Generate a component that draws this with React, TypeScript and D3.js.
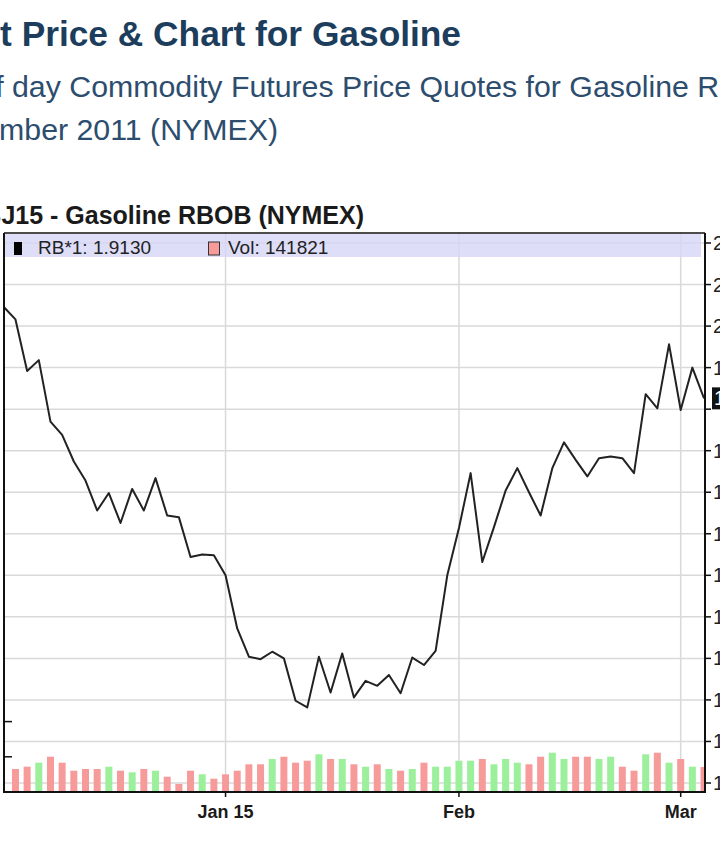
import React from "react";
import * as d3 from "d3";

// Price series (closing values), index -1 .. 59 (index -1 is the clipped point at the left edge)
const priceStartIndex = -1;
const prices = [
  2.023, 2.008, 1.946, 1.959, 1.885, 1.869, 1.837, 1.814, 1.778, 1.799,
  1.763, 1.804, 1.778, 1.817, 1.772, 1.770, 1.722, 1.725, 1.724, 1.700,
  1.636, 1.602, 1.599, 1.608, 1.600, 1.549, 1.541, 1.602, 1.559, 1.606,
  1.553, 1.573, 1.567, 1.580, 1.558, 1.601, 1.592, 1.609, 1.700, 1.757,
  1.823, 1.716, 1.758, 1.802, 1.829, 1.800, 1.772, 1.829, 1.860, 1.839,
  1.819, 1.841, 1.843, 1.841, 1.823, 1.918, 1.901, 1.978, 1.899, 1.950,
  1.913,
];

// Daily volume, index 0 .. 59
const volumes = [
  130700, 143800, 166500, 200600, 166500, 121000, 130700, 130700, 143800, 121000,
  111900, 130700, 121000, 86900, 45500, 121000, 100600, 75600, 100600, 121000,
  157400, 157400, 187500, 200600, 166500, 177800, 214200, 187500, 187500, 157400,
  143800, 157400, 130700, 121000, 130700, 166500, 143800, 143800, 177800, 177800,
  187500, 157400, 187500, 166500, 157400, 200600, 223300, 187500, 200600, 200600,
  187500, 200600, 143800, 121000, 214200, 223300, 166500, 187500, 143800, 141821,
];

const xTickIndices = [18, 38, 57];
const xTickLabels = ["Jan 15", "Feb", "Mar"];
const priceTicks = [1.45, 1.5, 1.55, 1.6, 1.65, 1.7, 1.75, 1.8, 1.85, 1.9, 1.95, 2.0, 2.05, 2.1];
const volumeTicks = [200000, 400000];
const lastPriceLabel = "1.9130";
const lastVolumeLabel = "141821";

const FONT = "'Liberation Sans', Arial, sans-serif";

export default function App() {
  const left = 4;
  const right = 705;
  const top = 233;
  const bottom = 792;

  const x = d3.scaleLinear().domain([-1, 59.1]).range([3.8, 705.2]);
  const y = d3.scaleLinear().domain([1.45, 2.1]).range([783, 243]);
  const yv = d3.scaleLinear().domain([0, 400000]).range([bottom, 721.6]);

  const pts = prices.map((p, i) => ({ i: i + priceStartIndex, p }));
  const line = d3
    .line<{ i: number; p: number }>()
    .x((d) => x(d.i))
    .y((d) => y(d.p));

  const priceAt = (i: number) => prices[i - priceStartIndex];
  const lastPrice = prices[prices.length - 1];

  return (
    <div style={{ position: "absolute", left: 0, top: 0 }}>
      <svg width={720} height={845} style={{ display: "block", background: "#fff" }}>
        <defs>
          <clipPath id="plotClip">
            <rect x={left} y={top} width={right - left} height={bottom - top} />
          </clipPath>
        </defs>

        {/* Page header */}
        <text x={461} y={46} textAnchor="end" fontFamily={FONT} fontWeight="bold" fontSize={35.3} fill="#1c3d5c">
          Latest Price &amp; Chart for Gasoline
        </text>
        <text x={-84} y={97} fontFamily={FONT} fontSize={30.3} fill="#2d4d6e">
          End of day Commodity Futures Price Quotes for Gasoline RBOB
        </text>
        <text x={278} y={140} textAnchor="end" fontFamily={FONT} fontSize={30.3} fill="#2d4d6e">
          November 2011 (NYMEX)
        </text>

        {/* Chart title */}
        <text x={364} y={224} textAnchor="end" fontFamily={FONT} fontWeight="bold" fontSize={25} fill="#1a1a1a">
          RBJ15 - Gasoline RBOB (NYMEX)
        </text>

        {/* Horizontal gridlines */}
        {priceTicks.map((t) => (
          <line key={"hg" + t} x1={left} x2={right} y1={y(t)} y2={y(t)} stroke="#d9d9d9" strokeWidth={1.5} />
        ))}
        {/* Vertical gridlines */}
        {xTickIndices.map((k) => (
          <line key={"vg" + k} x1={x(k)} x2={x(k)} y1={top} y2={bottom} stroke="#d9d9d9" strokeWidth={1.5} />
        ))}

        {/* Legend band */}
        <rect x={left + 1} y={top + 1} width={right - left - 5} height={23} fill="#d6d6f7" opacity={0.8} />

        <g clipPath="url(#plotClip)">
          {/* Volume bars */}
          {volumes.map((v, k) => {
            const prev = priceAt(k - 1);
            const cur = priceAt(k);
            const up = cur >= prev;
            return (
              <rect
                key={"vb" + k}
                x={x(k) - 3.5}
                y={yv(v)}
                width={7}
                height={bottom - yv(v)}
                fill={up ? "#9cf09c" : "#f79a9a"}
              />
            );
          })}
          {/* Price line */}
          <path d={line(pts) || ""} fill="none" stroke="#222" strokeWidth={2} strokeLinejoin="round" />
        </g>

        {/* Legend text */}
        <rect x={14} y={242} width={8} height={13} fill="#000" />
        <text x={38} y={254} fontFamily={FONT} fontSize={19} fill="#222">
          RB*1: {lastPriceLabel}
        </text>
        <rect x={208.5} y={242} width={11} height={13} fill="#f79a9a" stroke="#333" strokeWidth={1} />
        <text x={228} y={254} fontFamily={FONT} fontSize={19} fill="#222">
          Vol: {lastVolumeLabel}
        </text>

        {/* Borders */}
        <line x1={left} x2={right} y1={top} y2={top} stroke="#111" strokeWidth={1.5} />
        <line x1={left} x2={left} y1={top} y2={bottom} stroke="#111" strokeWidth={2} />
        <line x1={right} x2={right} y1={top} y2={bottom + 1} stroke="#111" strokeWidth={2} />
        <line x1={left - 1} x2={right + 1} y1={bottom} y2={bottom} stroke="#111" strokeWidth={2} />

        {/* Right price axis */}
        {priceTicks.map((t) => (
          <g key={"pt" + t}>
            <line x1={right} x2={right + 6} y1={y(t)} y2={y(t)} stroke="#111" strokeWidth={1.5} />
            {Math.abs(y(t) - y(lastPrice)) > 14 && (
              <text x={713} y={y(t) + 7} fontFamily={FONT} fontSize={20} fill="#222">
                {t.toFixed(2)}
              </text>
            )}
          </g>
        ))}
        <rect x={712} y={y(lastPrice) - 11} width={70} height={22} fill="#111" />
        <text x={714} y={y(lastPrice) + 7} fontFamily={FONT} fontSize={20} fill="#fff">
          {lastPrice.toFixed(4)}
        </text>

        {/* Left volume axis ticks */}
        {volumeTicks.map((t) => (
          <line key={"vt" + t} x1={left} x2={left + 8} y1={yv(t)} y2={yv(t)} stroke="#111" strokeWidth={1.5} />
        ))}

        {/* X axis ticks and labels */}
        {xTickIndices.map((k, i) => (
          <g key={"xt" + k}>
            <line x1={x(k)} x2={x(k)} y1={bottom} y2={bottom + 5} stroke="#111" strokeWidth={1.5} />
            <text x={x(k)} y={818} textAnchor="middle" fontFamily={FONT} fontWeight="bold" fontSize={18} fill="#1a1a1a">
              {xTickLabels[i]}
            </text>
          </g>
        ))}
      </svg>
    </div>
  );
}
